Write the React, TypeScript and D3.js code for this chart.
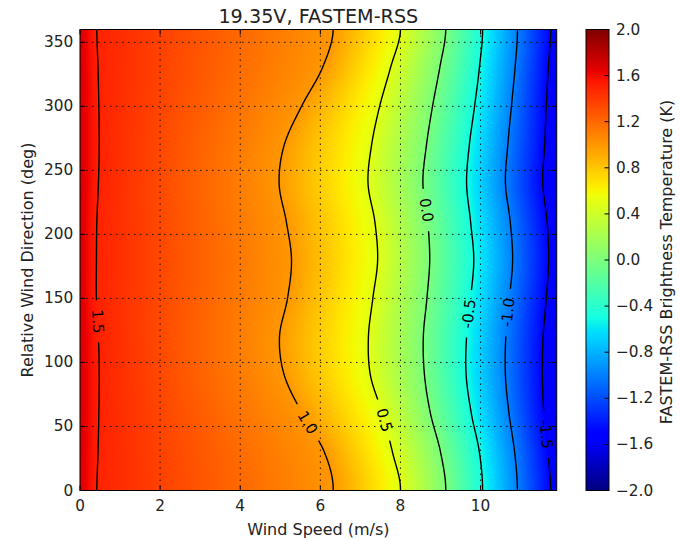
import * as d3 from "d3";
import React, { useMemo } from "react";

// Brightness temperature contours, FASTEM-RSS 19.35 GHz V-pol
const speedMax = 11.9;
const directions = [0, 30, 60, 90, 120, 150, 180, 210, 240, 270, 300, 330, 360];
const levels = [1.5, 1.0, 0.5, 0.0, -0.5, -1.0, -1.5];

// wind speed (m/s) where each contour level crosses each direction
const speed15 = [0.42, 0.45, 0.47, 0.48, 0.46, 0.41, 0.41, 0.42, 0.46, 0.48, 0.47, 0.45, 0.42];
const speed10 = [6.32, 6.1, 5.55, 5.1, 4.98, 5.18, 5.28, 5.15, 4.97, 5.1, 5.53, 6.05, 6.32];
const speed05 = [8.0, 7.8, 7.55, 7.25, 7.2, 7.31, 7.43, 7.36, 7.19, 7.28, 7.48, 7.75, 8.0];
const speed00 = [9.13, 9.0, 8.75, 8.6, 8.57, 8.66, 8.73, 8.68, 8.56, 8.65, 8.8, 8.98, 9.13];
const speedM05 = [10.05, 9.97, 9.77, 9.64, 9.65, 9.75, 9.83, 9.75, 9.65, 9.72, 9.85, 9.97, 10.05];
const speedM10 = [10.92, 10.85, 10.71, 10.62, 10.63, 10.72, 10.8, 10.74, 10.62, 10.68, 10.77, 10.86, 10.92];
const speedM15 = [11.75, 11.68, 11.58, 11.54, 11.56, 11.64, 11.7, 11.66, 11.55, 11.6, 11.64, 11.69, 11.75];
const contourSpeeds = [speed15, speed10, speed05, speed00, speedM05, speedM10, speedM15];

// values at the edges of the plot (0 m/s and max speed)
const tbCalm = 1.7;
const tbStrong = -1.6;

// direction where the inline label of each contour sits
const labelDirs = [132, 53, 55, 219, 138, 139, 44];

const xTicks = [0, 2, 4, 6, 8, 10];
const yTicks = [0, 50, 100, 150, 200, 250, 300, 350];
const cbTicks = [-2.0, -1.6, -1.2, -0.8, -0.4, 0.0, 0.4, 0.8, 1.2, 1.6, 2.0];

// matplotlib "jet"
const jetR = d3.scaleLinear().domain([0, 0.35, 0.66, 0.89, 1]).range([0, 0, 1, 1, 0.5]).clamp(true);
const jetG = d3.scaleLinear().domain([0, 0.125, 0.375, 0.64, 0.91, 1]).range([0, 0, 1, 1, 0, 0]).clamp(true);
const jetB = d3.scaleLinear().domain([0, 0.11, 0.34, 0.65, 1]).range([0.5, 1, 1, 0, 0]).clamp(true);
const jet = (v: number) => [jetR(v), jetG(v), jetB(v)].map((c) => Math.round(c * 255));
const jetKnots = [0, 0.11, 0.125, 0.34, 0.35, 0.375, 0.64, 0.65, 0.66, 0.89, 0.91, 1];

const font = "DejaVu Sans";

// smooth periodic curve through the values read at each direction
function speedAt(row: number[], dir: number) {
  const step = directions[1] - directions[0];
  const n = row.length - 1;
  const u = dir / step;
  const i = Math.min(Math.floor(u), n - 1);
  const t = u - i;
  const p = (k: number) => row[((k % n) + n) % n];
  const p0 = p(i - 1), p1 = p(i), p2 = p(i + 1), p3 = p(i + 2);
  return 0.5 * (2 * p1 + (-p0 + p2) * t + (2 * p0 - 5 * p1 + 4 * p2 - p3) * t * t + (-p0 + 3 * p1 - 3 * p2 + p3) * t * t * t);
}

function fmt(v: number, minus: string) {
  const s = v.toFixed(1);
  return v < 0 ? minus + s.slice(1) : s;
}

export default function App() {
  const left = 80, right = 556.7, top = 29.5, bottom = 490.5;
  const x = d3.scaleLinear().domain([0, speedMax]).range([left, right]);
  const y = d3.scaleLinear().domain([0, 360]).range([bottom, top]);
  const norm = d3.scaleLinear().domain([-2, 2]).range([0, 1]).clamp(true);
  const cbLeft = 586, cbRight = 609;
  const cbY = d3.scaleLinear().domain([-2, 2]).range([bottom, top]);

  const fieldUrl = useMemo(() => {
    const w = Math.round(right - left), h = Math.round(bottom - top);
    const canvas = document.createElement("canvas");
    canvas.width = w;
    canvas.height = h;
    const ctx = canvas.getContext("2d");
    if (!ctx) return "";
    const img = ctx.createImageData(w, h);
    for (let py = 0; py < h; py++) {
      const dir = y.invert(top + ((py + 0.5) * (bottom - top)) / h);
      const knots = [0, ...contourSpeeds.map((r) => speedAt(r, dir)), speedMax];
      const vals = [tbCalm, ...levels, tbStrong];
      const profile = d3.scaleLinear().domain(knots).range(vals);
      for (let px = 0; px < w; px++) {
        const ws = x.invert(left + ((px + 0.5) * (right - left)) / w);
        const [r, g, b] = jet(norm(profile(ws)));
        const k = (py * w + px) * 4;
        img.data[k] = r;
        img.data[k + 1] = g;
        img.data[k + 2] = b;
        img.data[k + 3] = 255;
      }
    }
    ctx.putImageData(img, 0, 0);
    return canvas.toDataURL();
  }, []);

  const labelSize = 15;
  const line = d3.line<[number, number]>();
  const contours = levels.map((lv, li) => {
    const row = contourSpeeds[li];
    const pt = (d: number): [number, number] => [x(speedAt(row, d)), y(d)];
    const ld = labelDirs[li];
    const c = pt(ld);
    const a = pt(ld - 3), b = pt(ld + 3);
    let ang = (Math.atan2(b[1] - a[1], b[0] - a[0]) * 180) / Math.PI;
    if (ang > 90) ang -= 180;
    if (ang <= -90) ang += 180;
    const text = fmt(lv, "-");
    const textW = (text.length - 1) * 0.636 * labelSize + 0.318 * labelSize + (lv < 0 ? -0.275 * labelSize : 0);
    const radius = textW / 2 + 9;
    const runs: [number, number][][] = [];
    let cur: [number, number][] = [];
    for (let d = 0; d <= 360; d += 0.5) {
      const p = pt(d);
      if (Math.hypot(p[0] - c[0], p[1] - c[1]) < radius) {
        if (cur.length > 1) runs.push(cur);
        cur = [];
      } else cur.push(p);
    }
    if (cur.length > 1) runs.push(cur);
    return { lv, runs, c, ang, text };
  });

  const tickLen = 5;
  const tickStyle = { stroke: "#000", strokeWidth: 1 };

  return (
    <svg width={681} height={540} style={{ position: "absolute", left: 0, top: 0, background: "#fff" }} fontFamily={font}>
      <defs>
        <linearGradient id="jetbar" x1="0" y1="1" x2="0" y2="0">
          {jetKnots.map((k) => {
            const [r, g, b] = jet(k);
            return <stop key={k} offset={k} stopColor={`rgb(${r},${g},${b})`} />;
          })}
        </linearGradient>
        <clipPath id="plotclip">
          <rect x={left} y={top} width={right - left} height={bottom - top} />
        </clipPath>
      </defs>

      <image href={fieldUrl} x={left} y={top} width={right - left} height={bottom - top} preserveAspectRatio="none" />

      {/* grid */}
      <g stroke="#000" strokeWidth={1} strokeDasharray="1.5,4.5" opacity={0.85}>
        {xTicks.slice(1).map((t) => (
          <line key={t} x1={x(t)} x2={x(t)} y1={top} y2={bottom} />
        ))}
        {yTicks.slice(1).map((t) => (
          <line key={t} x1={left} x2={right} y1={y(t)} y2={y(t)} />
        ))}
      </g>

      {/* contours */}
      <g clipPath="url(#plotclip)" fill="none" stroke="#000" strokeWidth={1.4}>
        {contours.map((c) => c.runs.map((r, i) => <path key={`${c.lv}-${i}`} d={line(r) || ""} />))}
      </g>
      {contours.map((c) => (
        <text
          key={`l${c.lv}`}
          x={c.c[0]}
          y={c.c[1]}
          transform={`rotate(${c.ang},${c.c[0]},${c.c[1]})`}
          textAnchor="middle"
          dominantBaseline="central"
          fontSize={labelSize}
          fill="#000"
        >
          {c.text}
        </text>
      ))}

      {/* frame and ticks */}
      <rect x={left} y={top} width={right - left} height={bottom - top} fill="none" stroke="#000" strokeWidth={1} />
      {xTicks.map((t) => (
        <g key={`xt${t}`}>
          <line x1={x(t)} x2={x(t)} y1={bottom} y2={bottom - tickLen} {...tickStyle} />
          <line x1={x(t)} x2={x(t)} y1={top} y2={top + tickLen} {...tickStyle} />
          <text x={x(t)} y={510.7} textAnchor="middle" fontSize={15.3} fill="#222">
            {t}
          </text>
        </g>
      ))}
      {yTicks.map((t) => (
        <g key={`yt${t}`}>
          <line x1={left} x2={left + tickLen} y1={y(t)} y2={y(t)} {...tickStyle} />
          <line x1={right} x2={right - tickLen} y1={y(t)} y2={y(t)} {...tickStyle} />
          <text x={73.3} y={y(t)} textAnchor="end" dominantBaseline="central" fontSize={15.3} fill="#222">
            {t}
          </text>
        </g>
      ))}

      {/* colorbar */}
      <rect x={cbLeft} y={top} width={cbRight - cbLeft} height={bottom - top} fill="url(#jetbar)" stroke="#000" strokeWidth={1} />
      {cbTicks.map((t) => (
        <g key={`cb${t}`}>
          <line x1={cbRight} x2={cbRight - 4.5} y1={cbY(t)} y2={cbY(t)} {...tickStyle} />
          <text x={616} y={cbY(t)} dominantBaseline="central" fontSize={15.3} fill="#222">
            {fmt(t, "\u2212")}
          </text>
        </g>
      ))}

      {/* titles */}
      <text x={(left + right) / 2} y={23.3} textAnchor="middle" fontSize={19.2} fill="#222">
        19.35V, FASTEM-RSS
      </text>
      <text x={(left + right) / 2} y={535} textAnchor="middle" fontSize={16} fill="#222">
        Wind Speed (m/s)
      </text>
      <text transform={`translate(32.5,${(top + bottom) / 2}) rotate(-90)`} textAnchor="middle" fontSize={16} fill="#222">
        Relative Wind Direction (deg)
      </text>
      <text transform={`translate(672.3,${(top + bottom) / 2 + 2}) rotate(-90)`} textAnchor="middle" fontSize={16} fill="#222">
        FASTEM-RSS Brightness Temperature (K)
      </text>
    </svg>
  );
}
